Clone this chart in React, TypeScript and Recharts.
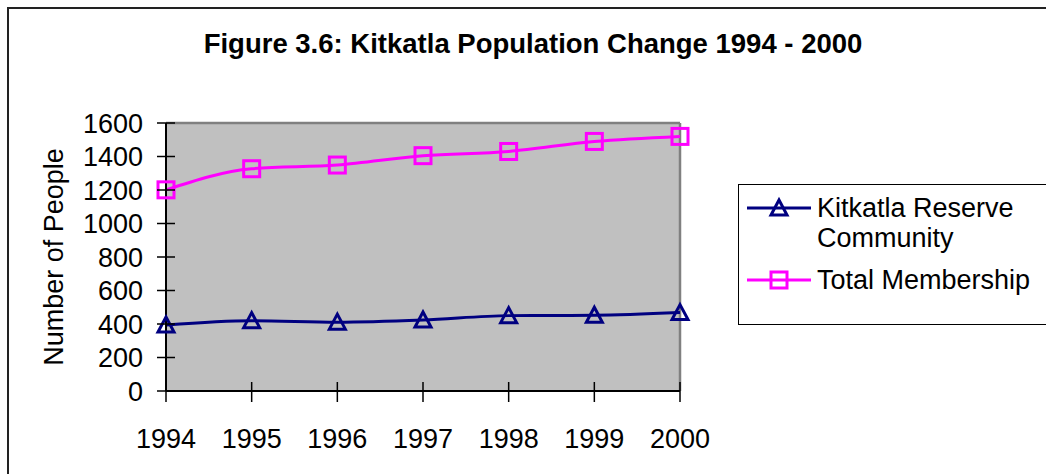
import { LineChart, Line, XAxis, YAxis, CartesianGrid, ReferenceLine } from 'recharts';

const years = ['1994', '1995', '1996', '1997', '1998', '1999', '2000'];
const reserveCommunity = [394, 420, 411, 424, 450, 452, 468];
const totalMembership = [1201, 1327, 1349, 1405, 1430, 1490, 1520];
const yTicks = [0, 200, 400, 600, 800, 1000, 1200, 1400, 1600];

const data = years.map((year, i) => ({
  year,
  reserve: reserveCommunity[i],
  total: totalMembership[i],
}));

const FONT = '"Liberation Sans", Arial, sans-serif';
const NAVY = '#000080';
const MAGENTA = '#FF00FF';

const TriangleDot = (props: any) => {
  const { cx, cy } = props;
  if (cx == null || cy == null) return null;
  return (
    <polygon
      points={`${cx},${cy - 8} ${cx - 8},${cy + 7} ${cx + 8},${cy + 7}`}
      fill="none"
      stroke={NAVY}
      strokeWidth={3}
    />
  );
};

const SquareDot = (props: any) => {
  const { cx, cy } = props;
  if (cx == null || cy == null) return null;
  return <rect x={cx - 8} y={cy - 8} width={16} height={16} fill="none" stroke={MAGENTA} strokeWidth={3} />;
};

const YTick = ({ x, y, payload }: any) => (
  <g>
    <line x1={x - 9} x2={x + 9} y1={y} y2={y} stroke="#000" strokeWidth={1.5} />
    <text x={x - 23} y={y} dy="0.36em" textAnchor="end" fontSize={27} fontFamily={FONT} fill="#000">
      {payload.value}
    </text>
  </g>
);

const XTick = ({ x, y, payload }: any) => (
  <g>
    <line x1={x} x2={x} y1={y - 9} y2={y + 11} stroke="#000" strokeWidth={1.5} />
    <text x={x} y={y + 57} textAnchor="middle" fontSize={27} fontFamily={FONT} fill="#000">
      {payload.value}
    </text>
  </g>
);

const YLabel = ({ viewBox }: any) => {
  const cy = viewBox.y + viewBox.height / 2;
  return (
    <text
      x={54}
      y={cy}
      transform={`rotate(-90, 54, ${cy})`}
      textAnchor="middle"
      dominantBaseline="central"
      fontSize={27}
      fontFamily={FONT}
      fill="#000"
    >
      Number of People
    </text>
  );
};

const LegendIcon = ({ color, shape }: { color: string; shape: 'triangle' | 'square' }) => (
  <svg width={64} height={30} style={{ flex: 'none' }}>
    <line x1={0} x2={64} y1={15} y2={15} stroke={color} strokeWidth={3} />
    {shape === 'triangle' ? (
      <polygon points="32,7 24,22 40,22" fill="none" stroke={color} strokeWidth={3} />
    ) : (
      <rect x={24} y={7} width={16} height={16} fill="none" stroke={color} strokeWidth={3} />
    )}
  </svg>
);

const ChartLegend = () => (
  <div
    style={{
      position: 'absolute',
      left: 738,
      top: 184,
      width: 320,
      height: 141,
      border: '1.5px solid #000',
      boxSizing: 'border-box',
      background: '#fff',
      fontFamily: FONT,
      fontSize: 27,
      lineHeight: '30px',
      color: '#000',
      padding: '8px 0 0 8px',
    }}
  >
    <div style={{ display: 'flex', alignItems: 'flex-start' }}>
      <LegendIcon color={NAVY} shape="triangle" />
      <div style={{ marginLeft: 6 }}>
        Kitkatla Reserve
        <br />
        Community
      </div>
    </div>
    <div style={{ display: 'flex', alignItems: 'flex-start', marginTop: 12 }}>
      <LegendIcon color={MAGENTA} shape="square" />
      <div style={{ marginLeft: 6 }}>Total Membership</div>
    </div>
  </div>
);

export default function App() {
  return (
    <div style={{ position: 'fixed', left: 0, top: 0, width: 1046, height: 474, background: '#fff', overflow: 'hidden' }}>
      <div
        style={{
          position: 'absolute',
          left: 7,
          top: 7,
          width: 1060,
          height: 490,
          border: '2px solid #222',
          boxSizing: 'border-box',
        }}
      />
      <div
        style={{
          position: 'absolute',
          left: 0,
          top: 28,
          width: 1066,
          textAlign: 'center',
          fontFamily: FONT,
          fontWeight: 'bold',
          fontSize: 27.5,
          lineHeight: '32px',
          color: '#000',
        }}
      >
        Figure 3.6: Kitkatla Population Change 1994 - 2000
      </div>
      <div style={{ position: 'absolute', left: 0, top: 0 }}>
        <LineChart width={1046} height={474} data={data} margin={{ top: 123, right: 366, left: 0, bottom: 0 }}>
          <CartesianGrid fill="#C0C0C0" horizontal={false} vertical={false} stroke="none" />
          <XAxis
            dataKey="year"
            height={83}
            axisLine={{ stroke: '#000', strokeWidth: 2 }}
            tickLine={false}
            tickSize={0}
            tickMargin={0}
            tick={<XTick />}
            interval={0}
          />
          <YAxis
            width={166}
            domain={[0, 1600]}
            ticks={yTicks}
            axisLine={{ stroke: '#000', strokeWidth: 2 }}
            tickLine={false}
            tickSize={0}
            tickMargin={0}
            tick={<YTick />}
            interval={0}
            label={<YLabel />}
          />
          <ReferenceLine y={1600} stroke="#808080" strokeWidth={2.5} />
          <ReferenceLine x="2000" stroke="#808080" strokeWidth={2.5} />
          <Line
            type="monotone"
            dataKey="reserve"
            name="Kitkatla Reserve Community"
            stroke={NAVY}
            strokeWidth={3}
            dot={<TriangleDot />}
            activeDot={false}
            isAnimationActive={false}
          />
          <Line
            type="monotone"
            dataKey="total"
            name="Total Membership"
            stroke={MAGENTA}
            strokeWidth={3}
            dot={<SquareDot />}
            activeDot={false}
            isAnimationActive={false}
          />
        </LineChart>
      </div>
      <ChartLegend />
    </div>
  );
}
